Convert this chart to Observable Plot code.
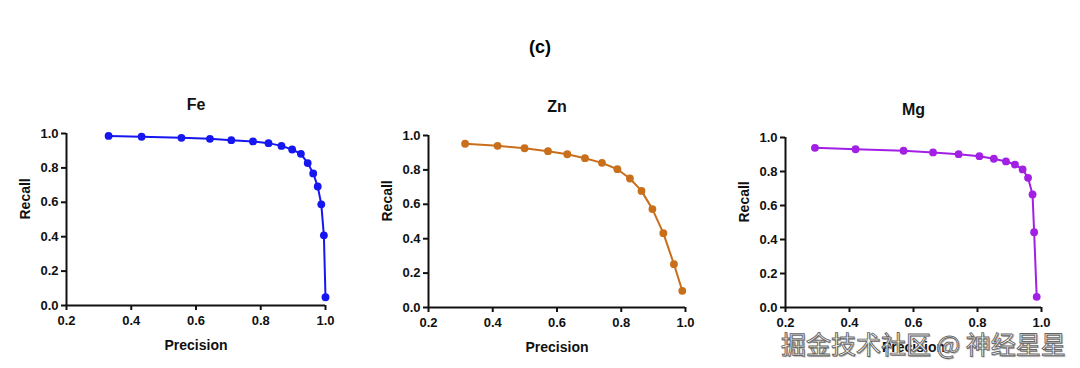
<!DOCTYPE html>
<html>
<head>
<meta charset="utf-8">
<script src="https://cdn.jsdelivr.net/npm/d3@7"></script>
<script src="https://cdn.jsdelivr.net/npm/@observablehq/plot@0.6"></script>
<style>
  html, body { margin: 0; padding: 0; background: #fff; }
  #root { position: relative; width: 1080px; height: 368px; overflow: hidden; font-family: "Liberation Sans", Arial, sans-serif; }
  .panel { position: absolute; top: 90px; }
  #maintitle { position: absolute; left: 0; width: 1080px; top: 37px; text-align: center; font-weight: bold; font-size: 18px; color: #000; }
  #wm { position: absolute; left: 781px; top: 325px; font-family: "Noto Sans CJK SC", sans-serif; font-size: 25px; color: rgba(255,255,255,0.95);
        -webkit-text-stroke: 0.9px #666; text-shadow: 1px 1px 1px rgba(60,60,60,0.55); white-space: pre; }
</style>
</head>
<body>
<div id="root">
  <div id="maintitle">(c)</div>
</div>
<script>
// ---- data ----
const panelNames = ["Fe", "Zn", "Mg"];
const panelColors = ["#1616f0", "#c96f1c", "#a21fe4"];
const xTicks = [0.2, 0.4, 0.6, 0.8, 1.0];
const yTicks = [0.0, 0.2, 0.4, 0.6, 0.8, 1.0];
const xLabel = "Precision";
const yLabel = "Recall";

const fePrecision = [0.330, 0.432, 0.555, 0.643, 0.709, 0.776, 0.824, 0.864, 0.897, 0.924, 0.945, 0.962, 0.976, 0.987, 0.995, 1.000];
const feRecall    = [0.986, 0.981, 0.975, 0.969, 0.961, 0.954, 0.944, 0.928, 0.907, 0.882, 0.828, 0.768, 0.692, 0.588, 0.408, 0.048];

const znPrecision = [0.314, 0.415, 0.499, 0.572, 0.632, 0.687, 0.740, 0.788, 0.827, 0.863, 0.897, 0.931, 0.964, 0.990];
const znRecall    = [0.952, 0.940, 0.926, 0.909, 0.891, 0.868, 0.841, 0.804, 0.750, 0.678, 0.572, 0.432, 0.252, 0.097];

const mgPrecision = [0.292, 0.419, 0.569, 0.661, 0.741, 0.806, 0.851, 0.889, 0.917, 0.941, 0.958, 0.972, 0.977, 0.985];
const mgRecall    = [0.939, 0.931, 0.922, 0.912, 0.902, 0.890, 0.875, 0.859, 0.841, 0.812, 0.763, 0.665, 0.443, 0.063];

const watermark = "掘金技术社区 @ 神经星星";

// ---- layout ----
const layouts = [
  {left: 0,   width: 360, height: 278, mL: 66, mR: 35, mT: 43, mB: 63, titleDy: -35},
  {left: 360, width: 360, height: 278, mL: 68, mR: 35, mT: 45, mB: 61, titleDy: -35},
  {left: 720, width: 360, height: 278, mL: 65, mR: 39, mT: 47, mB: 61, titleDy: -34}
];
const series = [
  [fePrecision, feRecall],
  [znPrecision, znRecall],
  [mgPrecision, mgRecall]
];

const root = document.getElementById("root");
const fmt = d3.format(".1f");

panelNames.forEach((name, i) => {
  const [px, py] = series[i];
  const data = px.map((p, k) => ({precision: p, recall: py[k]}));
  const L = layouts[i];
  const color = panelColors[i];
  const chart = Plot.plot({
    width: L.width,
    height: L.height,
    marginLeft: L.mL,
    marginRight: L.mR,
    marginTop: L.mT,
    marginBottom: L.mB,
    style: {fontFamily: "'Liberation Sans', Arial, sans-serif", fontSize: "13px", fontWeight: "bold", color: "#111", background: "transparent", overflow: "visible"},
    x: {domain: [0.2, 1.0], axis: null},
    y: {domain: [0, 1.0], axis: null},
    marks: [
      Plot.axisX({ticks: xTicks, tickFormat: fmt, tickSize: 5, tickPadding: 5, strokeWidth: 2, label: null, fontSize: 13, fontWeight: "bold"}),
      Plot.axisY({ticks: yTicks, tickFormat: fmt, tickSize: 5, tickPadding: 3, strokeWidth: 2, label: null, fontSize: 13, fontWeight: "bold"}),
      Plot.ruleX([0.2], {y1: 0, y2: 1.0, stroke: "#111", strokeWidth: 2}),
      Plot.ruleY([0], {x1: 0.2, x2: 1.0, stroke: "#111", strokeWidth: 2}),
      Plot.line(data, {x: "precision", y: "recall", stroke: color, strokeWidth: 2}),
      Plot.dot(data, {x: "precision", y: "recall", fill: color, r: 3.9}),
      Plot.text([name], {frameAnchor: "top", dy: L.titleDy, fontSize: 16, fontWeight: "bold", fill: "#111"}),
      Plot.text([xLabel], {frameAnchor: "bottom", dy: 44, fontSize: 14, fontWeight: "bold", fill: "#111"}),
      Plot.text([yLabel], {frameAnchor: "left", dx: -41, rotate: -90, fontSize: 14, fontWeight: "bold", fill: "#111"})
    ]
  });
  const wrap = document.createElement("div");
  wrap.className = "panel";
  wrap.style.left = L.left + "px";
  wrap.appendChild(chart);
  root.appendChild(wrap);
});

const wm = document.createElement("div");
wm.id = "wm";
wm.textContent = watermark;
root.appendChild(wm);
</script>
</body>
</html>
